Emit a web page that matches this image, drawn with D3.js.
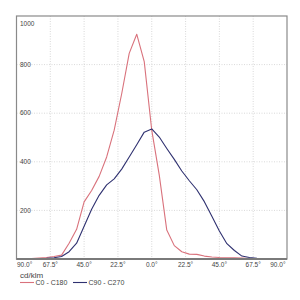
<!DOCTYPE html>
<html>
<head>
<meta charset="utf-8">
<script src="https://cdn.jsdelivr.net/npm/d3@7"></script>
<style>
  html, body { margin: 0; padding: 0; background: #fff; }
  svg { display: block; font-family: "Liberation Sans", Arial, sans-serif; }
  .grid line { stroke: #cfcfcf; stroke-width: 0.8; stroke-dasharray: 1 1.5; }
  .tick-label { fill: #444; font-size: 6.5px; }
</style>
</head>
<body>
<div id="chart"></div>
<script>
// polar angle (deg) vs luminous intensity (cd/klm)
const angles = [-90, -85, -80, -75, -70, -65, -60, -55, -50, -45, -40, -35, -30, -25, -20, -15, -10, -5,
  0, 5, 10, 15, 20, 25, 30, 35, 40, 45, 50, 55, 60, 65, 70, 75, 80, 85, 90];
const c0c180 = [0, 1, 2, 4, 6, 10, 16, 65, 122, 235, 282, 340, 420, 530, 680, 846, 925, 812,
  530, 345, 119, 55, 30, 20, 19, 12, 8, 6, 5, 5, 4, 2, 1, 0, 0, 0, 0];
const c90c270 = [0, 0, 1, 2, 3, 5, 10, 30, 65, 135, 205, 262, 305, 330, 370, 420, 470, 522,
  535, 502, 455, 410, 362, 322, 285, 236, 176, 115, 63, 35, 12, 6, 3, 1, 0, 0, 0];
const xTicks = [-90, -67.5, -45, -22.5, 0, 22.5, 45, 67.5, 90];
const yTicks = [200, 400, 600, 800, 1000];
const seriesNames = ['C0 - C180', 'C90 - C270'];
const seriesColors = ['#d9727c', '#2f3170'];

const config = {
  width: 300,
  height: 300,
  margin: { top: 16, right: 13, bottom: 41, left: 16.5 },
};

const plotW = config.width - config.margin.left - config.margin.right;
const plotH = config.height - config.margin.top - config.margin.bottom;

const svg = d3.select('#chart').append('svg')
  .attr('width', config.width)
  .attr('height', config.height);

const g = svg.append('g')
  .attr('transform', `translate(${config.margin.left},${config.margin.top})`);

const xScale = d3.scaleLinear().domain([-90, 90]).range([0, plotW]);
const yScale = d3.scaleLinear().domain([0, 1000]).range([plotH, 0]);

// dotted grid
g.append('g').attr('class', 'grid')
  .selectAll('line.v')
  .data(xTicks.slice(1, -1))
  .join('line')
  .attr('x1', (d) => xScale(d)).attr('x2', (d) => xScale(d))
  .attr('y1', 0).attr('y2', plotH);

g.append('g').attr('class', 'grid')
  .selectAll('line.h')
  .data(yTicks.filter((d) => d < 1000))
  .join('line')
  .attr('x1', 0).attr('x2', plotW)
  .attr('y1', (d) => yScale(d)).attr('y2', (d) => yScale(d));

// y labels sit inside the plot
g.append('g')
  .selectAll('text')
  .data(yTicks)
  .join('text')
  .attr('class', 'tick-label')
  .attr('x', 3.5)
  .attr('y', (d) => Math.max(yScale(d), 8))
  .attr('dy', '0.35em')
  .text((d) => d);

// x labels below the axis, end labels kept inside
const fmt = (d) => `${Math.abs(d).toFixed(1)}°`;
g.append('g')
  .selectAll('text')
  .data(xTicks)
  .join('text')
  .attr('class', 'tick-label')
  .attr('x', (d) => {
    if (d === -90) return xScale(d) + 0.5;
    if (d === 90) return xScale(d) - 1.5;
    return xScale(d);
  })
  .attr('y', plotH + 8)
  .attr('text-anchor', (d) => (d === -90 ? 'start' : d === 90 ? 'end' : 'middle'))
  .text(fmt);

// curves
const line = d3.line()
  .x((d, i) => xScale(angles[i]))
  .y((d) => yScale(d));

[c0c180, c90c270].forEach((vals, i) => {
  g.append('path')
    .datum(vals)
    .attr('fill', 'none')
    .attr('stroke', seriesColors[i])
    .attr('stroke-width', 1.1)
    .attr('stroke-linejoin', 'round')
    .attr('d', line);
});

// frame
g.append('rect')
  .attr('x', 0).attr('y', 0)
  .attr('width', plotW).attr('height', plotH)
  .attr('fill', 'none')
  .attr('stroke', '#8a8a8a')
  .attr('stroke-width', 1.2);
g.append('line')
  .attr('x1', 0).attr('x2', plotW)
  .attr('y1', plotH).attr('y2', plotH)
  .attr('stroke', '#7a7a7a')
  .attr('stroke-width', 1.8);

// unit + legend
svg.append('text')
  .attr('x', 20).attr('y', 278)
  .attr('fill', '#444')
  .attr('font-size', 8)
  .text('cd/klm');

const legend = svg.append('g').attr('transform', 'translate(20,282.5)');
const legendX = [0, 53];
seriesNames.forEach((name, i) => {
  const item = legend.append('g').attr('transform', `translate(${legendX[i]},0)`);
  item.append('line')
    .attr('x1', 0).attr('x2', 14)
    .attr('stroke', seriesColors[i])
    .attr('stroke-width', 1.1);
  item.append('text')
    .attr('x', 15.5)
    .attr('dy', '0.35em')
    .attr('fill', '#444')
    .attr('font-size', 7)
    .text(name);
});
</script>
</body>
</html>
